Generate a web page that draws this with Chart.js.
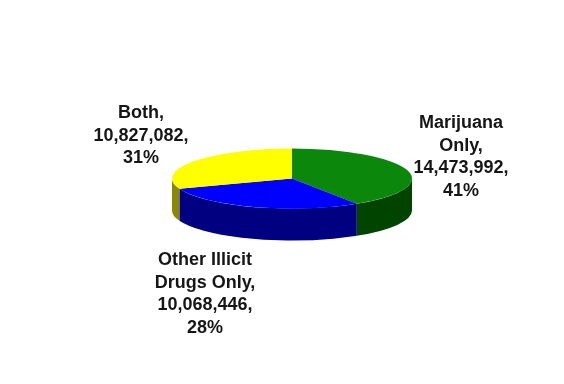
<!DOCTYPE html>
<html>
<head>
<meta charset="utf-8">
<script src="https://cdn.jsdelivr.net/npm/chart.js@4.4.1/dist/chart.umd.min.js"></script>
<style>
  html, body { margin: 0; padding: 0; background: #ffffff; }
  #chart { display: block; }
</style>
</head>
<body>
<canvas id="chart" width="564" height="384"></canvas>
<script>
// slice names (one entry per text line) and counts
var categories = [['Marijuana', 'Only'], ['Other Illicit', 'Drugs Only'], ['Both']];
var users = [14473992, 10068446, 10827082];

// top faces and the darker side walls
var topColors = ['#0b870b', '#0000ff', '#ffff00'];
var sideColors = ['#004400', '#000080', '#8a8a00'];

var total = users.reduce(function (a, b) { return a + b; }, 0);

function fmt(n) {
  return n.toString().replace(/\B(?=(\d{3})+(?!\d))/g, ',');
}

// squash the pie into an ellipse and give it a wall
var pie3d = {
  id: 'pie3d',
  beforeDatasetsDraw: function (chart, args, opts) {
    var ctx = chart.ctx;
    var meta = chart.getDatasetMeta(0);
    var el0 = meta.data[0];
    var k = opts.tilt;
    var depth = opts.depth / k;
    ctx.save();
    ctx.translate(0, opts.centerY);
    ctx.scale(1, k);
    ctx.translate(0, -el0.y);

    meta.data.forEach(function (el, i) {
      var s = el.startAngle, e = el.endAngle;
      // only the front half (0..PI, or 2PI..3PI) of the wall shows
      [[0, Math.PI], [2 * Math.PI, 3 * Math.PI]].forEach(function (w) {
        var a = Math.max(s, w[0]), b = Math.min(e, w[1]);
        if (b <= a) { return; }
        ctx.beginPath();
        ctx.arc(el.x, el.y, el.outerRadius, a, b);
        ctx.arc(el.x, el.y + depth, el.outerRadius, b, a, true);
        ctx.closePath();
        ctx.fillStyle = sideColors[i];
        ctx.fill();
      });
    });
  },
  afterDatasetsDraw: function (chart) {
    chart.ctx.restore();
  }
};

// value labels beside each slice
var pieLabels = {
  id: 'pieLabels',
  afterDraw: function (chart, args, opts) {
    var ctx = chart.ctx;
    var el0 = chart.getDatasetMeta(0).data[0];
    var cx = el0.x, cy = chart.options.plugins.pie3d.centerY;
    ctx.save();
    ctx.font = 'bold 18px "Liberation Sans", Arial, sans-serif';
    ctx.fillStyle = '#161616';
    ctx.textAlign = 'center';
    ctx.textBaseline = 'middle';
    categories.forEach(function (name, i) {
      var lines = name.slice();
      lines[lines.length - 1] += ',';
      lines.push(fmt(users[i]) + ',');
      lines.push(Math.round(users[i] / total * 100) + '%');
      var p = opts.offsets[i];
      var y0 = cy + p[1] - (lines.length - 1) * opts.lineHeight / 2;
      lines.forEach(function (t, j) {
        ctx.fillText(t, cx + p[0], y0 + j * opts.lineHeight);
      });
    });
    ctx.restore();
  }
};

var chart = new Chart(document.getElementById('chart'), {
  type: 'pie',
  data: {
    labels: categories.map(function (c) { return c.join(' '); }),
    datasets: [{
      data: users,
      backgroundColor: topColors,
      borderWidth: 0,
      clip: false
    }]
  },
  options: {
    responsive: false,
    animation: false,
    events: [],
    layout: { padding: { left: 172, right: 152, top: 60, bottom: 60 } },
    plugins: {
      legend: { display: false },
      tooltip: { enabled: false },
      pie3d: { tilt: 0.25, depth: 32, centerY: 178.5 },
      pieLabels: {
        lineHeight: 22.5,
        offsets: [[169, -21.5], [-87, 115.5], [-151, -42.5]]
      }
    }
  },
  plugins: [pie3d, pieLabels]
});
</script>
</body>
</html>
